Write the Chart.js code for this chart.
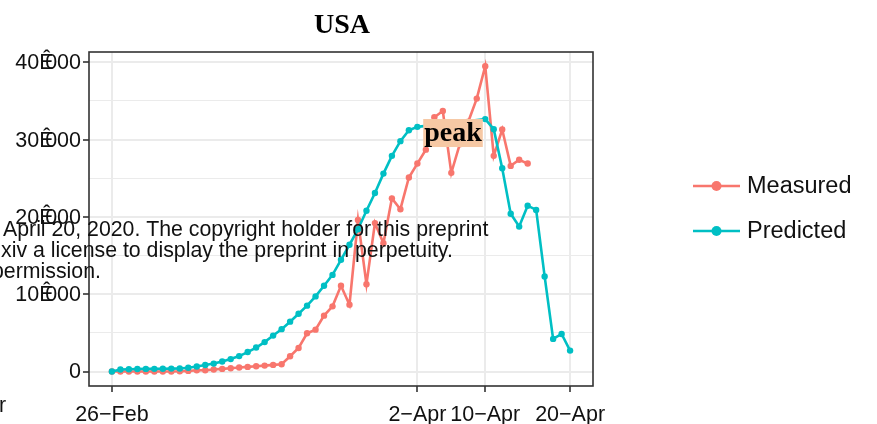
<!DOCTYPE html>
<html>
<head>
<meta charset="utf-8">
<script src="https://cdn.jsdelivr.net/npm/chart.js@4"></script>
<style>
  html, body { margin: 0; background: #fff; }
  #wrap { width: 877px; height: 424px; }
</style>
</head>
<body>
<div id="wrap"><canvas id="chart" width="877" height="424"></canvas></div>
<script>
// one entry per day, starting 26 Feb 2020
const dates = [
  '02-26', '02-27', '02-28', '02-29', '03-01', '03-02', '03-03', '03-04', '03-05', '03-06',
  '03-07', '03-08', '03-09', '03-10', '03-11', '03-12', '03-13', '03-14', '03-15', '03-16',
  '03-17', '03-18', '03-19', '03-20', '03-21', '03-22', '03-23', '03-24', '03-25', '03-26',
  '03-27', '03-28', '03-29', '03-30', '03-31', '04-01', '04-02', '04-03', '04-04', '04-05',
  '04-06', '04-07', '04-08', '04-09', '04-10', '04-11', '04-12', '04-13', '04-14', '04-15',
  '04-16', '04-17', '04-18', '04-19', '04-20',
];
const measured = [
  0, 0, 0, 0, 0, 0, 0, 10, 30, 80,
  170, 170, 260, 340, 430, 520, 600, 690, 770, 860,
  950, 1980, 3050, 4950, 5420, 7230, 8430, 11100, 8650, 19600,
  11300, 19200, 16600, 22400, 21000, 25100, 26900, 28700, 32900, 33700,
  25700, 29400, 32300, 35300, 39500, 27900, 31300, 26600, 27400, 26900,
  null, null, null, null, null,
];
// the days hidden behind the "peak" label are left empty
const predicted = [
  0, 260, 300, 320, 340, 350, 360, 380, 390, 500,
  650, 840, 1030, 1290, 1610, 2000, 2520, 3100, 3810, 4650,
  5480, 6450, 7480, 8520, 9720, 11100, 12500, 14450, 16400, 18400,
  20800, 23100, 25600, 27900, 29800, 31200, 31650, null, null, null,
  null, null, null, null, 32650, 31350, 26300, 20400, 18750, 21450,
  20900, 12300, 4220, 4860, 2710,
];
const xTickDays = [0, 36, 44, 54];
const xTickLabels = ['26\u2212Feb', '2\u2212Apr', '10\u2212Apr', '20\u2212Apr'];
const yTicks = [0, 5000, 10000, 15000, 20000, 25000, 30000, 35000, 40000];
const yTickLabels = { 0: '0', 10000: '10\u00CA000', 20000: '20\u00CA000', 30000: '30\u00CA000', 40000: '40\u00CA000' };
const peakLabel = { text: 'peak', day: 40.2, value: 30850 };
const watermark = [
  { text: 'April 20, 2020. The copyright holder for this preprint', x: 3, y: 236 },
  { text: 'xiv a license to display the preprint in perpetuity.', x: 1, y: 257 },
  { text: 'permission.', x: -8, y: 278 },
  { text: 'r', x: -1, y: 412 },
];

const RED = '#F8766D';
const TEAL = '#00BFC4';
const SANS = '"Liberation Sans", Arial, sans-serif';
const SERIF = '"Liberation Serif", "Times New Roman", serif';
const TICK_FONT = `21.5px ${SANS}`;

const toPoints = (values) => values.map((v, i) => ({ x: i, y: v }));
const isMajor = (v) => v % 10000 === 0;

// y labels: the broken thousands separator glyph sits over the separator slot
function drawYLabels(chart) {
  const { ctx, chartArea: a, scales: { y } } = chart;
  const right = a.left - 8;
  ctx.font = TICK_FONT;
  ctx.fillStyle = '#111';
  ctx.textBaseline = 'middle';
  for (const v of yTicks) {
    const label = yTickLabels[v];
    if (!label) continue;
    const py = y.getPixelForValue(v) + 1;
    const parts = label.split('\u00CA');
    ctx.textAlign = 'right';
    if (parts.length === 1) { ctx.fillText(label, right, py); continue; }
    const tail = ctx.measureText(parts[1]).width;
    const slot = right - tail - ctx.measureText(',').width;
    ctx.fillText(parts[1], right, py);
    ctx.fillText(parts[0], slot, py);
    ctx.textAlign = 'left';
    ctx.fillText('\u00CA', slot, py);
  }
}

const decorations = {
  id: 'decorations',
  afterDatasetsDraw(chart) {
    const { ctx, chartArea: a, scales: { x, y } } = chart;
    ctx.save();
    // panel border
    ctx.strokeStyle = '#333';
    ctx.lineWidth = 1.6;
    ctx.strokeRect(a.left, a.top, a.right - a.left, a.bottom - a.top);

    // peak label
    const px = x.getPixelForValue(peakLabel.day);
    const py = y.getPixelForValue(peakLabel.value);
    ctx.font = `bold 28px ${SERIF}`;
    const w = ctx.measureText(peakLabel.text).width;
    ctx.fillStyle = '#F6C8A4';
    ctx.fillRect(px - w / 2 - 1, py - 14, w + 2, 28);
    ctx.fillStyle = '#000';
    ctx.textAlign = 'center';
    ctx.textBaseline = 'middle';
    ctx.fillText(peakLabel.text, px, py + 1);
    ctx.restore();
  },
  afterDraw(chart) {
    const { ctx, chartArea: a } = chart;
    ctx.save();
    drawYLabels(chart);

    // title
    ctx.font = `bold 28px ${SERIF}`;
    ctx.fillStyle = '#000';
    ctx.textAlign = 'center';
    ctx.textBaseline = 'alphabetic';
    ctx.fillText('USA', (a.left + a.right) / 2 + 1, 33);

    // legend
    chart.data.datasets.forEach((ds, i) => {
      const cy = 186 + i * 45;
      ctx.strokeStyle = ds.borderColor;
      ctx.lineWidth = 2.6;
      ctx.beginPath();
      ctx.moveTo(693, cy);
      ctx.lineTo(740, cy);
      ctx.stroke();
      ctx.fillStyle = ds.borderColor;
      ctx.beginPath();
      ctx.arc(716.5, cy, 5, 0, Math.PI * 2);
      ctx.fill();
      ctx.fillStyle = '#111';
      ctx.font = `23.5px ${SANS}`;
      ctx.textAlign = 'left';
      ctx.textBaseline = 'middle';
      ctx.fillText(ds.label, 747, cy + 1);
    });

    // preprint watermark text over the plot
    ctx.font = `21.3px ${SANS}`;
    ctx.fillStyle = '#111';
    ctx.textAlign = 'left';
    ctx.textBaseline = 'alphabetic';
    watermark.forEach((row) => ctx.fillText(row.text, row.x, row.y));
    ctx.restore();
  },
};

new Chart(document.getElementById('chart'), {
  type: 'line',
  data: {
    labels: dates,
    datasets: [
      {
        label: 'Measured', data: toPoints(measured), borderColor: RED, backgroundColor: RED,
        borderWidth: 2.6, pointRadius: 3.2, pointBorderWidth: 0, spanGaps: true, order: 1,
      },
      {
        label: 'Predicted', data: toPoints(predicted), borderColor: TEAL, backgroundColor: TEAL,
        borderWidth: 2.6, pointRadius: 3.2, pointBorderWidth: 0, spanGaps: true, order: 0,
      },
    ],
  },
  options: {
    responsive: false,
    animation: false,
    layout: { padding: { left: 0, right: 284, top: 52, bottom: 0 } },
    plugins: { legend: { display: false }, tooltip: { enabled: false }, title: { display: false } },
    scales: {
      x: {
        type: 'linear',
        min: -2.7,
        max: 56.7,
        afterBuildTicks: (scale) => { scale.ticks = xTickDays.map((v) => ({ value: v })); },
        afterFit: (scale) => { scale.height = 38; },
        ticks: {
          font: { family: SANS, size: 21.5 },
          color: '#111',
          padding: 10,
          maxRotation: 0,
          autoSkip: false,
          callback: (v) => xTickLabels[xTickDays.indexOf(v)] ?? '',
        },
        grid: { color: '#EBEBEB', lineWidth: 2, tickColor: '#333', tickLength: 6, tickWidth: 1.6 },
        border: { display: false },
      },
      y: {
        min: -1870,
        max: 41330,
        afterBuildTicks: (scale) => { scale.ticks = yTicks.map((v) => ({ value: v })); },
        afterFit: (scale) => { scale.width = 89; },
        ticks: { display: false },
        grid: {
          color: '#EBEBEB',
          lineWidth: (c) => (isMajor(c.tick.value) ? 2 : 1),
          tickColor: (c) => (isMajor(c.tick.value) ? '#333' : 'rgba(0,0,0,0)'),
          tickLength: 6,
          tickWidth: 1.6,
        },
        border: { display: false },
      },
    },
  },
  plugins: [decorations],
});
</script>
</body>
</html>
